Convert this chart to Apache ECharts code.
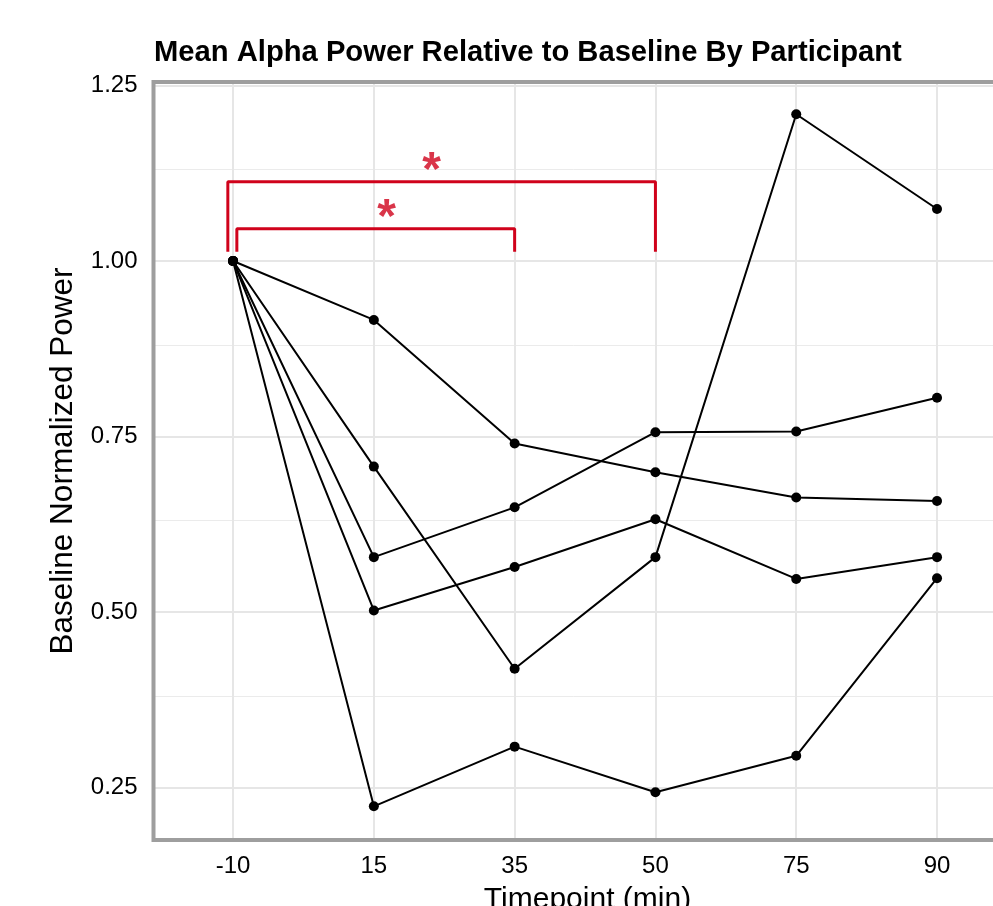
<!DOCTYPE html>
<html>
<head>
  <meta charset="utf-8">
  <title>Mean Alpha Power</title>
  <script src="https://cdn.jsdelivr.net/npm/echarts@6/dist/echarts.min.js"></script>
  <style>
    html, body { margin: 0; padding: 0; background: #fff; }
    #chart-container { width: 993px; height: 906px; }
  </style>
</head>
<body>
<div id="chart-container"></div>
<script>
  // timepoints (min) and one row of values per participant
  var timepoints = ['-10', '15', '35', '50', '75', '90'];
  var participant1 = [1.00, 0.916, 0.740, 0.699, 0.663, 0.658];
  var participant2 = [1.00, 0.707, 0.419, 0.578, 1.209, 1.074];
  var participant3 = [1.00, 0.578, 0.649, 0.756, 0.757, 0.805];
  var participant4 = [1.00, 0.502, 0.564, 0.632, 0.547, 0.578];
  var participant5 = [1.00, 0.223, 0.308, 0.243, 0.295, 0.548];

  // y ticks and grid lines
  var yTicks = [0.25, 0.50, 0.75, 1.00, 1.25];
  var yMinor = [0.375, 0.625, 0.875, 1.125];

  // significance brackets ([x index, y]) and their stars
  var outerBracket = [[-0.037, 1.013], [-0.037, 1.113], [3, 1.113], [3, 1.013]];
  var innerBracket = [[0.027, 1.013], [0.027, 1.046], [2, 1.046], [2, 1.013]];
  var stars = [[1.41, 1.14], [1.09, 1.073]];

  var myChart = echarts.init(document.getElementById('chart-container'));
  var font = 'Liberation Sans, Arial, sans-serif';

  function toPoints(arr) {
    return arr.map(function (v, i) { return [i, v]; });
  }

  var participants = [participant1, participant2, participant3, participant4, participant5];
  var lineSeries = participants.map(function (p, k) {
    return {
      name: 'P' + (k + 1),
      type: 'line',
      data: toPoints(p),
      symbol: 'circle',
      symbolSize: 10,
      lineStyle: { color: '#000', width: 2 },
      itemStyle: { color: '#000', borderWidth: 0 },
      z: 8
    };
  });

  // grid lines drawn as mark lines on an empty series
  var gridLines = [];
  yMinor.forEach(function (v) {
    gridLines.push({ yAxis: v, lineStyle: { color: '#ebebeb', width: 1, type: 'solid' } });
  });
  yTicks.forEach(function (v) {
    gridLines.push({ yAxis: v, lineStyle: { color: '#e6e6e6', width: 2, type: 'solid' } });
  });
  timepoints.forEach(function (t, i) {
    gridLines.push({ xAxis: i, lineStyle: { color: '#e6e6e6', width: 2, type: 'solid' } });
  });

  var red = '#d0021b';

  myChart.setOption({
    animation: false,
    title: {
      text: 'Mean Alpha Power Relative to Baseline By Participant',
      left: 149,
      top: 33,
      textStyle: { fontFamily: font, fontSize: 29.2, fontWeight: 'bold', color: '#000' }
    },
    grid: {
      left: 153.5,
      width: 868,
      top: 82,
      bottom: 66,
      outerBoundsMode: 'none',
      containLabel: false,
      show: true,
      z: 10,
      backgroundColor: 'transparent',
      borderColor: '#9e9e9e',
      borderWidth: 4
    },
    xAxis: {
      type: 'value',
      min: -0.565,
      max: 5.6,
      name: 'Timepoint (min)',
      nameLocation: 'middle',
      nameGap: 45,
      nameTextStyle: { fontFamily: font, fontSize: 30, color: '#000' },
      axisLine: { show: false },
      axisTick: { show: false },
      splitLine: { show: false },
      axisLabel: {
        customValues: [0, 1, 2, 3, 4, 5],
        formatter: function (v) { return timepoints[Math.round(v)]; },
        fontFamily: font,
        fontSize: 24,
        color: '#000',
        margin: 14
      }
    },
    yAxis: {
      type: 'value',
      min: 0.175,
      max: 1.255,
      name: 'Baseline Normalized Power',
      nameLocation: 'middle',
      nameGap: 74,
      nameTextStyle: { fontFamily: font, fontSize: 31.5, color: '#000' },
      axisLine: { show: false },
      axisTick: { show: false },
      splitLine: { show: false },
      axisLabel: {
        customValues: yTicks,
        formatter: function (v) { return v.toFixed(2); },
        fontFamily: font,
        fontSize: 24,
        color: '#000',
        margin: 16
      }
    },
    series: [
      {
        type: 'line',
        data: [],
        silent: true,
        z: 0,
        markLine: {
          silent: true,
          z: 1,
          symbol: 'none',
          label: { show: false },
          data: gridLines,
          animation: false
        }
      },
      {
        type: 'line',
        data: outerBracket,
        symbol: 'none',
        lineStyle: { color: red, width: 3 },
        z: 7
      },
      {
        type: 'line',
        data: innerBracket,
        symbol: 'none',
        lineStyle: { color: red, width: 3 },
        z: 7
      },
      {
        type: 'scatter',
        data: stars,
        symbolSize: 0,
        z: 7,
        label: {
          show: true,
          position: 'inside',
          formatter: '*',
          fontFamily: font,
          fontSize: 48,
          fontWeight: 'bold',
          color: red,
          offset: [0, 9]
        }
      }
    ].concat(lineSeries)
  });
</script>
</body>
</html>
